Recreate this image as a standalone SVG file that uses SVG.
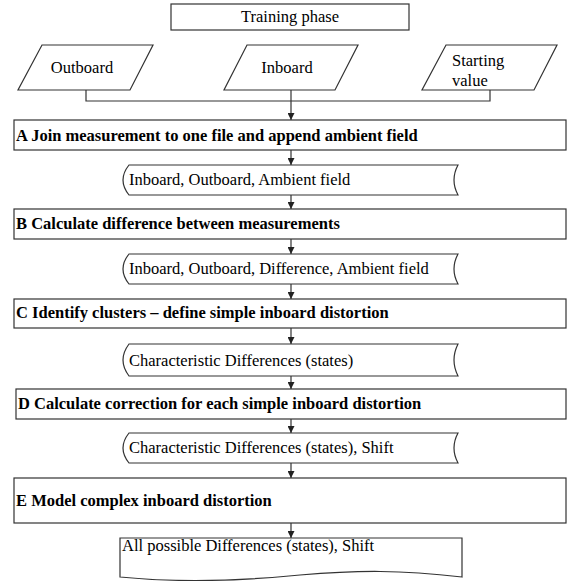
<svg xmlns="http://www.w3.org/2000/svg" width="571" height="581" viewBox="0 0 571 581">
<style>
.box{fill:#fff;stroke:#333;stroke-width:1.2}
.con{fill:none;stroke:#333;stroke-width:1.2}
text{font-family:'Liberation Serif','Times New Roman',Times,'DejaVu Serif',serif;font-size:16.5px;fill:#000}
.b{font-weight:bold}
</style>
<defs>
<marker id="ah" viewBox="0 0 8 8" refX="8" refY="4" markerWidth="7" markerHeight="7" markerUnits="userSpaceOnUse" orient="auto">
<path d="M0,0 L8,4 L0,8 Z" fill="#222"/>
</marker>
</defs>
<rect width="571" height="581" fill="#fff"/>
<g id="training">
<rect class="box" x="171" y="4" width="238" height="26"/>
<text x="290" y="22" text-anchor="middle">Training phase</text>
</g>
<g id="outboard">
<path class="box" d="M42,45 L153,45 L130,90 L18,90 Z"/>
<text x="82" y="73" text-anchor="middle">Outboard</text>
</g>
<g id="inboard">
<path class="box" d="M247,45 L358,45 L335,90 L224,90 Z"/>
<text x="287" y="73" text-anchor="middle">Inboard</text>
</g>
<g id="starting">
<path class="box" d="M446,45 L557,45 L534,90 L422,90 Z"/>
<text x="452" y="66">Starting</text>
<text x="452" y="86">value</text>
</g>
<g id="connectors">
<path class="con" d="M86,90 V101 H490 V90"/>
<path class="con" d="M291,90 V120" marker-end="url(#ah)"/>
<path class="con" d="M291,150 V165" marker-end="url(#ah)"/>
<path class="con" d="M291,195 V209" marker-end="url(#ah)"/>
<path class="con" d="M291,239 V254" marker-end="url(#ah)"/>
<path class="con" d="M291,284 V299" marker-end="url(#ah)"/>
<path class="con" d="M291,328 V344" marker-end="url(#ah)"/>
<path class="con" d="M291,376 V389" marker-end="url(#ah)"/>
<path class="con" d="M291,419 V433" marker-end="url(#ah)"/>
<path class="con" d="M291,463 V478" marker-end="url(#ah)"/>
<path class="con" d="M291,523 V538" marker-end="url(#ah)"/>
</g>
<g id="stepA">
<rect class="box" x="14" y="120" width="552" height="30"/>
<text class="b" x="16" y="141">A Join measurement to one file and append ambient field</text>
</g>
<g id="data1">
<path class="box" d="M129,165 L458,165 Q450,180 458,195 L129,195 Q117,180 129,165 Z"/>
<text x="129" y="185">Inboard, Outboard, Ambient field</text>
</g>
<g id="stepB">
<rect class="box" x="14" y="209" width="552" height="30"/>
<text class="b" x="16" y="229">B Calculate difference between measurements</text>
</g>
<g id="data2">
<path class="box" d="M129,254 L458,254 Q450,269 458,284 L129,284 Q117,269 129,254 Z"/>
<text x="129" y="274">Inboard, Outboard, Difference, Ambient field</text>
</g>
<g id="stepC">
<rect class="box" x="14" y="299" width="552" height="29"/>
<text class="b" x="16" y="318">C Identify clusters – define simple inboard distortion</text>
</g>
<g id="data3">
<path class="box" d="M129,344 L458,344 Q450,360 458,376 L129,376 Q117,360 129,344 Z"/>
<text x="129" y="366">Characteristic Differences (states)</text>
</g>
<g id="stepD">
<rect class="box" x="16" y="389" width="550" height="30"/>
<text class="b" x="18" y="409">D Calculate correction for each simple inboard distortion</text>
</g>
<g id="data4">
<path class="box" d="M129,433 L458,433 Q450,448 458,463 L129,463 Q117,448 129,433 Z"/>
<text x="129" y="453">Characteristic Differences (states), Shift</text>
</g>
<g id="stepE">
<rect class="box" x="14" y="478" width="552" height="45"/>
<text class="b" x="16" y="506">E Model complex inboard distortion</text>
</g>
<g id="output">
<path class="box" d="M120,538 L462,538 L462,577 C400,570 360,570 300,575 C230,582 170,582 120,577 Z"/>
<text x="122" y="551">All possible Differences (states), Shift</text>
</g>
</svg>
